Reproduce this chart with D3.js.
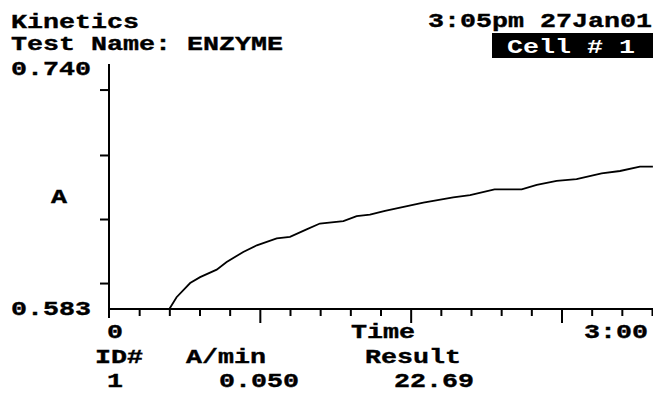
<!DOCTYPE html>
<html>
<head>
<meta charset="utf-8">
<script src="https://cdn.jsdelivr.net/npm/d3@7"></script>
<style>
  html, body { margin: 0; padding: 0; background: #fff; }
  svg { display: block; }
  text { font-family: "Liberation Mono", "DejaVu Sans Mono", monospace; font-weight: bold; fill: #000; }
</style>
</head>
<body>
<svg id="chart" width="653" height="393"></svg>
<script>
// ---- data ----
const timeSec = [20, 22.4, 26.9, 30.2, 35.7, 39.0, 44.5, 49.0, 55.6, 60.0, 65.5, 69.9, 77.7, 82.1, 86.5,
                 91.5, 99.2, 104.2, 114.1, 119.7, 127.8, 136.8, 141.8, 148.4, 155.0, 163.3, 169.4, 176.0, 180.3];
const absorbance = [0.5830, 0.5906, 0.5997, 0.6035, 0.6083, 0.6132, 0.6197, 0.6240, 0.6284, 0.6294, 0.6342,
                    0.6380, 0.6395, 0.6428, 0.6437, 0.6462, 0.6494, 0.6514, 0.6548, 0.6563, 0.6600, 0.6600,
                    0.6628, 0.6654, 0.6665, 0.6703, 0.6718, 0.6746, 0.6746];
const yDomain = [0.583, 0.740];
const yTickValues = [0.5997, 0.6409, 0.6821, 0.7242];
const xDomain = [0, 180];
const xTickValues = d3.range(0, 181, 10);
const xMajorTicks = [50, 100, 150];
const headerLines = ["Kinetics", "Test Name: ENZYME"];
const dateText = "3:05pm 27Jan01";
const cellText = "Cell # 1";
const yTopLabel = "0.740", yBottomLabel = "0.583", yAxisTitle = "A";
const xStartLabel = "0", xEndLabel = "3:00", xAxisTitle = "Time";
const resultHeaders = ["ID#", "A/min", "Result"];
const resultValues = ["1", "0.050", "22.69"];

// ---- layout ----
const svg = d3.select("#chart");
const CW = 16;          // character cell width
const FS = 21;          // font size
const x = d3.scaleLinear().domain(xDomain).range([109, 652]);
const y = d3.scaleLinear().domain(yDomain).range([309, 65]);

function label(str, px, py, opts = {}) {
  const t = svg.append("text")
    .attr("x", px).attr("y", py)
    .attr("font-size", opts.fs || FS)
    .attr("textLength", str.length * CW)
    .attr("lengthAdjust", "spacingAndGlyphs")
    .style("white-space", "pre")
    .text(str);
  if (opts.fill) t.style("fill", opts.fill);
  if (opts.stroke) t.attr("stroke", opts.stroke).attr("stroke-width", 0.4);
  return t;
}

// header
label(headerLines[0], 11, 28, { stroke: "#000" });
label(headerLines[1], 11, 50, { stroke: "#000" });
label(dateText, 428, 27, { stroke: "#000" });
svg.append("rect").attr("x", 492).attr("y", 33).attr("width", 161).attr("height", 25).attr("fill", "#000");
label(cellText, 507, 53, { fill: "#fff" });

// y axis
const yAxis = d3.axisLeft(y).tickValues(yTickValues).tickSize(9).tickFormat("");
const gy = svg.append("g").attr("transform", "translate(109,0)").call(yAxis);
gy.select(".domain").remove();
gy.selectAll(".tick line").attr("stroke", "#000").attr("stroke-width", 2);
svg.append("line").attr("x1", 109).attr("x2", 109).attr("y1", y(yDomain[1]) - 1).attr("y2", 318)
  .attr("stroke", "#000").attr("stroke-width", 2);

// x axis
const xAxis = d3.axisBottom(x).tickValues(xTickValues.filter(v => v > 0)).tickSizeOuter(0).tickFormat("")
  .tickSize(7);
const gx = svg.append("g").attr("transform", "translate(0,309)").call(xAxis);
gx.select(".domain").remove();
gx.selectAll(".tick line").attr("stroke", "#000").attr("stroke-width", 2)
  .attr("y2", d => xMajorTicks.includes(d) ? 14 : 7);
svg.append("line").attr("x1", 109).attr("x2", 653).attr("y1", 309).attr("y2", 309)
  .attr("stroke", "#000").attr("stroke-width", 2);

// axis labels
label(yTopLabel, 11, 75, { stroke: "#000" });
label(yBottomLabel, 11, 315, { stroke: "#000" });
label(yAxisTitle, 51, 203, { stroke: "#000" });
label(xStartLabel, 107, 338, { stroke: "#000" });
label(xAxisTitle, 351, 338, { stroke: "#000" });
label(xEndLabel, 584, 338, { stroke: "#000" });

// results
label(resultHeaders[0], 95, 363, { stroke: "#000" });
label(resultHeaders[1], 186, 363, { stroke: "#000" });
label(resultHeaders[2], 365, 363, { stroke: "#000" });
label(resultValues[0], 107, 387, { stroke: "#000" });
label(resultValues[1], 219, 387, { stroke: "#000" });
label(resultValues[2], 394, 387, { stroke: "#000" });

// curve
const pts = timeSec.map((t, i) => [t, absorbance[i]]);
const line = d3.line().x(d => x(d[0])).y(d => y(d[1]));
svg.append("path").datum(pts).attr("d", line)
  .attr("fill", "none").attr("stroke", "#000").attr("stroke-width", 1.8);
</script>
</body>
</html>
